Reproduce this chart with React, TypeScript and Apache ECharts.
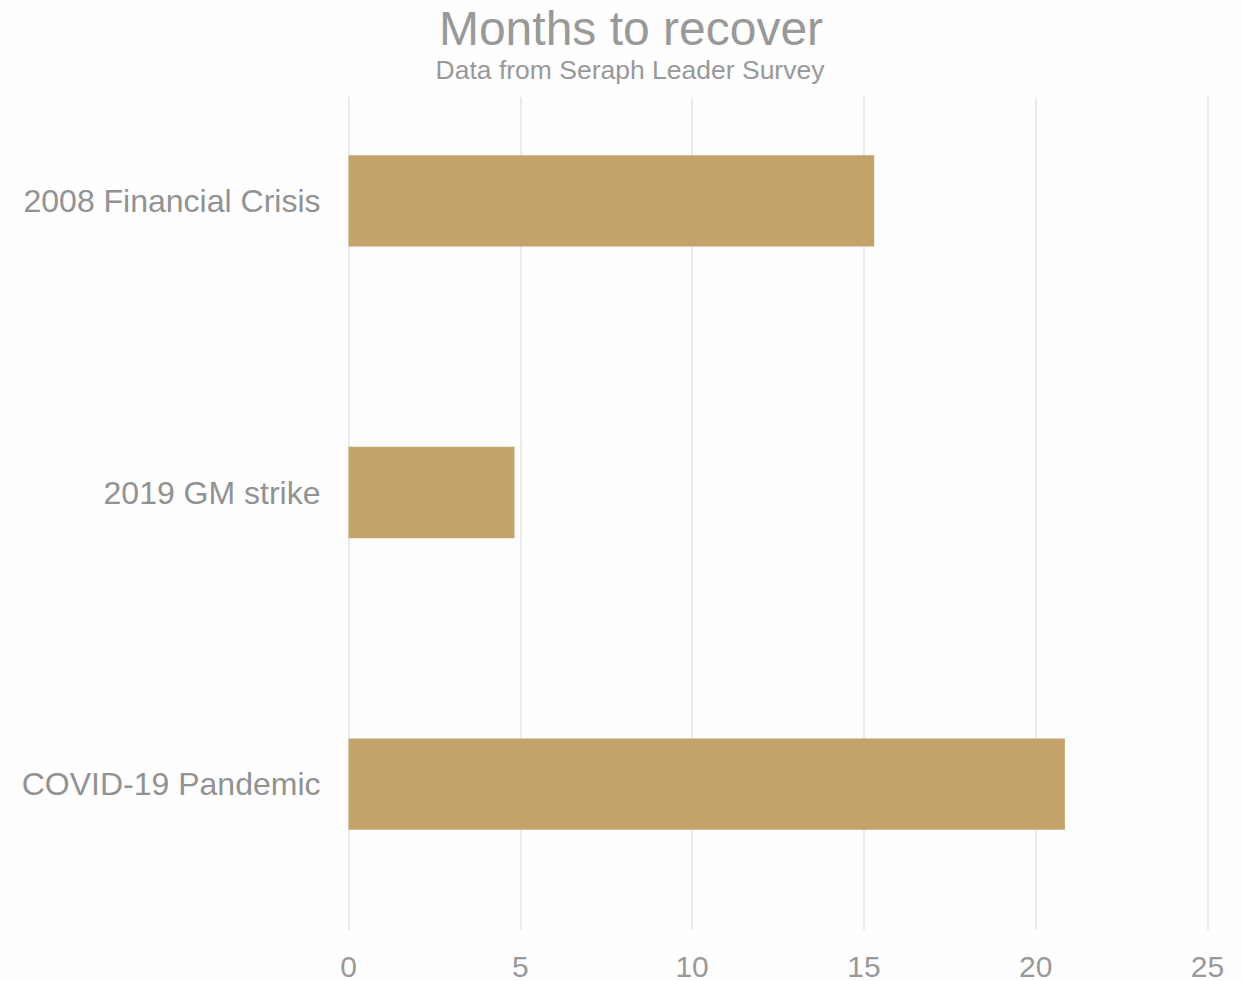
import React, { useEffect, useRef } from "react";
import * as echarts from "echarts";

const categories = ["2008 Financial Crisis", "2019 GM strike", "COVID-19 Pandemic"];
const monthsToRecover = [15.3, 4.83, 20.85];
const xTicks = [0, 5, 10, 15, 20, 25];

export default function App() {
  const ref = useRef<HTMLDivElement>(null);
  useEffect(() => {
    if (!ref.current) return;
    const chart = echarts.init(ref.current, undefined, { renderer: "svg" });
    chart.setOption({
      animation: false,
      backgroundColor: "#fefefe",
      title: [
        {
          text: "Months to recover",
          left: 626,
          top: -1,
          textAlign: "center",
          textStyle: {
            fontFamily: "Liberation Sans, Arial, sans-serif",
            fontSize: 48,
            fontWeight: "normal",
            color: "#999999",
          },
        },
        {
          text: "Data from Seraph Leader Survey",
          left: 625,
          top: 51,
          textAlign: "center",
          textStyle: {
            fontFamily: "Liberation Sans, Arial, sans-serif",
            fontSize: 26.5,
            fontWeight: "normal",
            color: "#999999",
          },
        },
      ],
      graphic: [
        {
          type: "rect",
          z: 1,
          silent: true,
          shape: { x: 300, y: 50, width: 942, height: 47 },
          style: { fill: "#fefefe" },
        },
      ],
      grid: { left: 348.5, right: 34.5, top: 55, bottom: 50, containLabel: false },
      xAxis: {
        type: "value",
        min: xTicks[0],
        max: xTicks[xTicks.length - 1],
        interval: 5,
        axisLine: { show: false },
        axisTick: { show: false },
        splitLine: { show: true, lineStyle: { color: "#e5e5e5", width: 1.5 } },
        axisLabel: {
          margin: 21,
          fontSize: 30,
          color: "#999999",
          fontFamily: "Liberation Sans, Arial, sans-serif",
        },
      },
      yAxis: {
        type: "category",
        inverse: true,
        data: categories,
        axisLine: { show: false },
        axisTick: { show: false },
        axisLabel: {
          margin: 28,
          fontSize: 32,
          color: "#929292",
          fontFamily: "Liberation Sans, Arial, sans-serif",
        },
      },
      series: [
        {
          type: "bar",
          data: monthsToRecover,
          barWidth: "31.3%",
          itemStyle: { color: "#c4a36a" },
          z: 3,
        },
      ],
    });
    return () => chart.dispose();
  }, []);
  return (
    <div
      ref={ref}
      style={{ position: "absolute", left: 0, top: 0, width: 1242, height: 981 }}
    />
  );
}
